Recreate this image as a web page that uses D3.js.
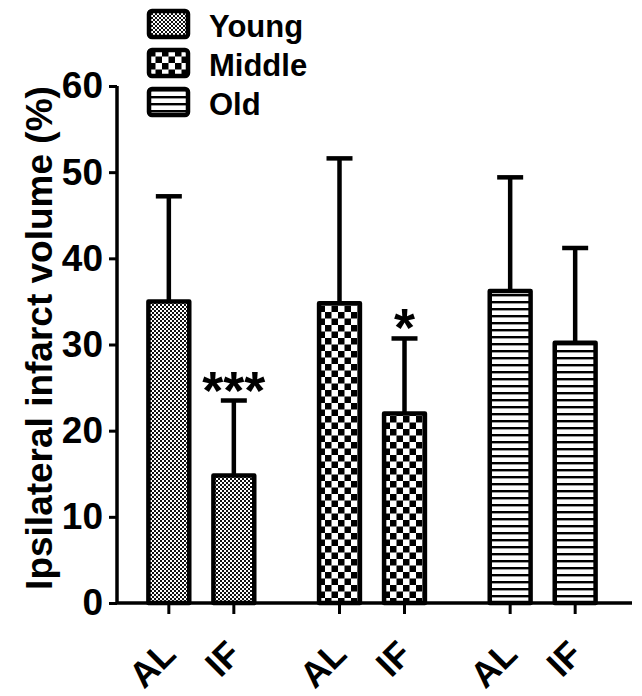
<!DOCTYPE html>
<html>
<head>
<meta charset="utf-8">
<script src="https://cdn.jsdelivr.net/npm/d3@7"></script>
<style>
  body { margin: 0; background: #fff; }
  text { font-family: "Liberation Sans", Arial, sans-serif; font-weight: bold; }
</style>
</head>
<body>
<div id="chart"></div>
<script>
// data
const groups = ["Young", "Middle", "Old"];
const diets = ["AL", "IF"];
const means = [35.0, 14.8, 34.8, 22.0, 36.2, 30.2];
const errTops = [47.2, 23.5, 51.6, 30.7, 49.4, 41.2];
const stars = ["", "***", "", "*", "", ""];
const yTicks = [0, 10, 20, 30, 40, 50, 60];

const width = 642, height = 696;

const svg = d3.select("#chart").append("svg")
    .attr("width", width)
    .attr("height", height);

// patterns
const defs = svg.append("defs");
let p = defs.append("pattern").attr("id", "pat-Young")
    .attr("patternUnits", "userSpaceOnUse").attr("width", 4).attr("height", 4);
p.append("rect").attr("width", 4).attr("height", 4).attr("fill", "#fff");
p.append("rect").attr("width", 2).attr("height", 2).attr("fill", "#111");
p.append("rect").attr("x", 2).attr("y", 2).attr("width", 2).attr("height", 2).attr("fill", "#111");

p = defs.append("pattern").attr("id", "pat-Middle")
    .attr("patternUnits", "userSpaceOnUse").attr("width", 13).attr("height", 13);
p.append("rect").attr("width", 13).attr("height", 13).attr("fill", "#fff");
p.append("rect").attr("width", 6.5).attr("height", 6.5).attr("fill", "#000");
p.append("rect").attr("x", 6.5).attr("y", 6.5).attr("width", 6.5).attr("height", 6.5).attr("fill", "#000");

p = defs.append("pattern").attr("id", "pat-Old")
    .attr("patternUnits", "userSpaceOnUse").attr("width", 7).attr("height", 7);
p.append("rect").attr("width", 7).attr("height", 7).attr("fill", "#fff");
p.append("rect").attr("y", 0).attr("width", 7).attr("height", 2.4).attr("fill", "#000");

// scales
const x0 = d3.scaleBand().domain(groups).range([116, 628]);
const x1 = d3.scaleBand().domain(diets)
    .range([x0.bandwidth() / 2 - 65, x0.bandwidth() / 2 + 65])
    .paddingInner(0.31).paddingOuter(0.155);
const y = d3.scaleLinear().domain([0, 60]).range([603, 86]);

const rows = means.map(function (m, i) {
    return {
        group: groups[Math.floor(i / 2)],
        diet: diets[i % 2],
        mean: m,
        top: errTops[i],
        star: stars[i]
    };
});
rows.forEach(function (d) { d.cx = x0(d.group) + x1(d.diet) + x1.bandwidth() / 2; });

// error bars (drawn first, stems hidden below bar top)
const eb = svg.append("g");
eb.selectAll("line.stem").data(rows).enter().append("line")
    .attr("x1", d => d.cx).attr("x2", d => d.cx)
    .attr("y1", d => y(d.mean)).attr("y2", d => y(d.top))
    .attr("stroke", "#000").attr("stroke-width", 4.5);
eb.selectAll("line.cap").data(rows).enter().append("line")
    .attr("x1", d => d.cx - 13).attr("x2", d => d.cx + 13)
    .attr("y1", d => y(d.top)).attr("y2", d => y(d.top))
    .attr("stroke", "#000").attr("stroke-width", 4.5);

// bars
svg.append("g").selectAll("rect").data(rows).enter().append("rect")
    .attr("x", d => x0(d.group) + x1(d.diet) + 2)
    .attr("width", x1.bandwidth() - 4)
    .attr("y", d => y(d.mean))
    .attr("height", d => y(0) - y(d.mean))
    .attr("fill", d => "url(#pat-" + d.group + ")")
    .attr("stroke", "#000").attr("stroke-width", 4.5)
    .attr("stroke-linejoin", "round");

// significance marks
svg.append("g").selectAll("text").data(rows.filter(d => d.star)).enter().append("text")
    .attr("x", d => d.cx)
    .attr("y", d => y(d.top) + 8)
    .attr("text-anchor", "middle")
    .style("font-size", "54px")
    .text(d => d.star);

// y axis
const yAxis = svg.append("g")
    .attr("transform", "translate(117,0)")
    .call(d3.axisLeft(y).tickValues(yTicks).tickSize(8).tickPadding(6));
yAxis.select(".domain").attr("stroke-width", 3.5).attr("d", "M0," + y(60) + "V" + y(0));
yAxis.selectAll(".tick line").attr("stroke-width", 3);
yAxis.selectAll(".tick text").style("font-size", "37px").attr("fill", "#000");

// x axis
svg.append("line")
    .attr("x1", 116).attr("x2", 632)
    .attr("y1", y(0)).attr("y2", y(0))
    .attr("stroke", "#000").attr("stroke-width", 3.5);
svg.append("g").selectAll("line").data(rows).enter().append("line")
    .attr("x1", d => d.cx).attr("x2", d => d.cx)
    .attr("y1", y(0)).attr("y2", y(0) + 11)
    .attr("stroke", "#000").attr("stroke-width", 3);
svg.append("g").selectAll("text").data(rows).enter().append("text")
    .attr("transform", d => "translate(" + (d.cx - 10) + "," + (y(0) + 34) + ") rotate(-45)")
    .attr("text-anchor", "end")
    .attr("dy", "0.75em")
    .style("font-size", "36px")
    .text(d => d.diet);

// y title
svg.append("text")
    .attr("transform", "translate(52,338) rotate(-90)")
    .attr("text-anchor", "middle")
    .style("font-size", "37px")
    .text("Ipsilateral infarct volume (%)");

// legend
const lg = svg.append("g").attr("transform", "translate(149,11)");
const li = lg.selectAll("g").data(groups).enter().append("g")
    .attr("transform", (d, i) => "translate(0," + i * 39 + ")");
li.append("rect")
    .attr("width", 39).attr("height", 26).attr("rx", 3)
    .attr("fill", d => "url(#pat-" + d + ")")
    .attr("stroke", "#000").attr("stroke-width", 4.5);
li.append("text")
    .attr("x", 60).attr("y", 26)
    .style("font-size", "31px")
    .text(d => d);
</script>
</body>
</html>
